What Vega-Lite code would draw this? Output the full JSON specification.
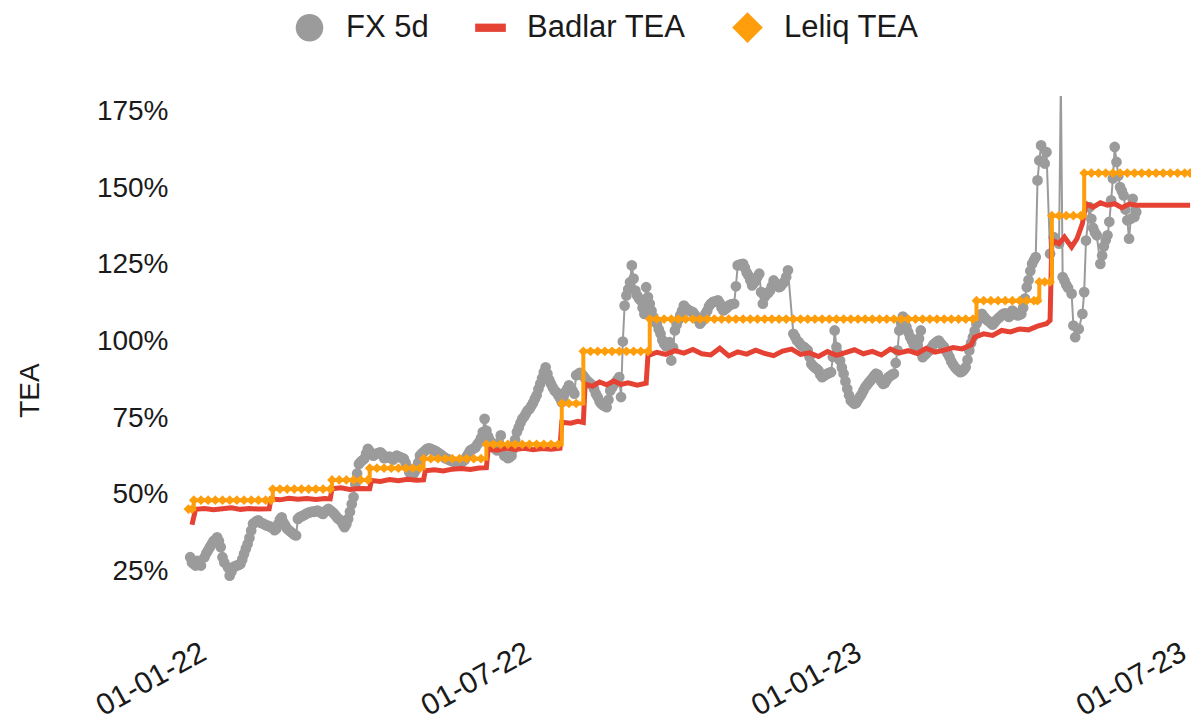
{
"$schema":"https://vega.github.io/schema/vega-lite/v6.json",
"width":1008,"height":491,
"autosize":{"type":"none"},
"padding":{"left":183,"top":96,"right":0,"bottom":136},
"background":"#ffffff",
"config":{"view":{"stroke":null},"font":"Liberation Sans"},
"datasets":{
"fx":[
{"date":"2022-01-02","value":29.7},{"date":"2022-01-04","value":27.5},{"date":"2022-01-06","value":28.5},{"date":"2022-01-08","value":27.0},{"date":"2022-01-10","value":29.7},{"date":"2022-01-13","value":33.0},{"date":"2022-01-15","value":35.0},{"date":"2022-01-17","value":36.2},{"date":"2022-01-19","value":33.0},{"date":"2022-01-20","value":29.7},{"date":"2022-01-23","value":26.4},{"date":"2022-01-24","value":23.7},{"date":"2022-01-26","value":26.4},{"date":"2022-01-28","value":27.0},{"date":"2022-01-30","value":27.5},
{"date":"2022-02-01","value":30.8},{"date":"2022-02-03","value":34.0},{"date":"2022-02-05","value":38.4},{"date":"2022-02-06","value":40.6},{"date":"2022-02-09","value":41.7},{"date":"2022-02-12","value":40.6},{"date":"2022-02-14","value":40.0},{"date":"2022-02-16","value":39.5},{"date":"2022-02-19","value":39.0},{"date":"2022-02-22","value":42.7},{"date":"2022-02-25","value":39.0},{"date":"2022-02-27","value":38.0},
{"date":"2022-03-02","value":36.8},{"date":"2022-03-03","value":42.2},{"date":"2022-03-06","value":43.3},{"date":"2022-03-08","value":44.0},{"date":"2022-03-10","value":44.4},{"date":"2022-03-14","value":44.9},{"date":"2022-03-17","value":43.8},{"date":"2022-03-20","value":45.5},{"date":"2022-03-22","value":44.5},{"date":"2022-03-24","value":43.3},{"date":"2022-03-27","value":41.7},{"date":"2022-03-29","value":39.5},{"date":"2022-03-31","value":42.2},
{"date":"2022-04-03","value":49.3},{"date":"2022-04-04","value":53.6},{"date":"2022-04-06","value":60.1},{"date":"2022-04-09","value":61.8},{"date":"2022-04-11","value":65.0},{"date":"2022-04-14","value":62.8},{"date":"2022-04-16","value":63.5},{"date":"2022-04-18","value":63.9},{"date":"2022-04-20","value":62.0},{"date":"2022-04-22","value":62.3},{"date":"2022-04-25","value":61.5},{"date":"2022-04-27","value":62.8},
{"date":"2022-05-01","value":61.8},{"date":"2022-05-03","value":59.0},{"date":"2022-05-05","value":56.3},{"date":"2022-05-07","value":57.4},{"date":"2022-05-10","value":62.8},{"date":"2022-05-12","value":64.0},{"date":"2022-05-14","value":65.0},{"date":"2022-05-18","value":64.5},{"date":"2022-05-21","value":63.4},{"date":"2022-05-24","value":62.0},{"date":"2022-05-27","value":61.2},{"date":"2022-05-30","value":60.5},
{"date":"2022-06-01","value":60.1},{"date":"2022-06-04","value":61.5},{"date":"2022-06-07","value":64.5},{"date":"2022-06-10","value":65.5},{"date":"2022-06-12","value":67.2},{"date":"2022-06-14","value":70.5},{"date":"2022-06-15","value":74.8},{"date":"2022-06-18","value":67.7},{"date":"2022-06-22","value":64.5},{"date":"2022-06-24","value":69.4},{"date":"2022-06-26","value":62.8},{"date":"2022-06-28","value":62.0},{"date":"2022-06-30","value":62.8},
{"date":"2022-07-03","value":70.5},{"date":"2022-07-06","value":74.8},{"date":"2022-07-09","value":77.5},{"date":"2022-07-11","value":79.0},{"date":"2022-07-13","value":81.3},{"date":"2022-07-16","value":86.2},{"date":"2022-07-19","value":91.6},{"date":"2022-07-22","value":86.2},{"date":"2022-07-25","value":83.5},{"date":"2022-07-28","value":80.2},
{"date":"2022-08-01","value":85.7},{"date":"2022-08-04","value":83.0},{"date":"2022-08-05","value":89.0},{"date":"2022-08-08","value":89.5},{"date":"2022-08-11","value":87.3},{"date":"2022-08-14","value":85.7},{"date":"2022-08-17","value":81.9},{"date":"2022-08-19","value":79.7},{"date":"2022-08-22","value":78.6},{"date":"2022-08-24","value":84.0},{"date":"2022-08-27","value":86.7},{"date":"2022-08-29","value":88.4},{"date":"2022-08-30","value":81.9},{"date":"2022-08-31","value":100.0},
{"date":"2022-09-01","value":111.7},{"date":"2022-09-04","value":119.3},{"date":"2022-09-05","value":124.8},{"date":"2022-09-07","value":116.6},{"date":"2022-09-10","value":113.4},{"date":"2022-09-12","value":109.0},{"date":"2022-09-13","value":117.7},{"date":"2022-09-15","value":112.3},{"date":"2022-09-17","value":108.0},{"date":"2022-09-19","value":105.8},{"date":"2022-09-21","value":102.5},{"date":"2022-09-23","value":99.3},{"date":"2022-09-26","value":99.8},{"date":"2022-09-27","value":93.8},{"date":"2022-09-29","value":103.6},
{"date":"2022-10-01","value":107.0},{"date":"2022-10-04","value":111.7},{"date":"2022-10-06","value":110.5},{"date":"2022-10-09","value":109.6},{"date":"2022-10-11","value":108.0},{"date":"2022-10-13","value":105.8},{"date":"2022-10-16","value":109.0},{"date":"2022-10-19","value":112.3},{"date":"2022-10-23","value":113.4},{"date":"2022-10-26","value":110.1},{"date":"2022-10-29","value":111.7},
{"date":"2022-11-01","value":112.3},{"date":"2022-11-03","value":124.8},{"date":"2022-11-06","value":125.3},{"date":"2022-11-09","value":121.5},{"date":"2022-11-11","value":118.3},{"date":"2022-11-13","value":119.9},{"date":"2022-11-15","value":122.1},{"date":"2022-11-16","value":116.1},{"date":"2022-11-17","value":112.3},{"date":"2022-11-18","value":114.5},{"date":"2022-11-21","value":116.6},{"date":"2022-11-23","value":119.9},{"date":"2022-11-26","value":117.7},{"date":"2022-11-28","value":118.8},
{"date":"2022-12-01","value":123.2},{"date":"2022-12-04","value":102.5},{"date":"2022-12-06","value":100.3},{"date":"2022-12-08","value":99.0},{"date":"2022-12-10","value":98.2},{"date":"2022-12-12","value":97.1},{"date":"2022-12-14","value":92.7},{"date":"2022-12-17","value":91.1},{"date":"2022-12-20","value":88.4},{"date":"2022-12-23","value":89.5},{"date":"2022-12-25","value":90.0},{"date":"2022-12-27","value":103.6},{"date":"2022-12-28","value":98.2},{"date":"2022-12-30","value":93.8},
{"date":"2023-01-01","value":89.5},{"date":"2023-01-03","value":84.6},{"date":"2023-01-05","value":80.8},{"date":"2023-01-07","value":79.7},{"date":"2023-01-10","value":81.9},{"date":"2023-01-13","value":85.1},{"date":"2023-01-16","value":87.3},{"date":"2023-01-19","value":89.5},{"date":"2023-01-23","value":86.2},{"date":"2023-01-26","value":88.4},{"date":"2023-01-29","value":89.5},{"date":"2023-01-31","value":97.1},
{"date":"2023-02-01","value":103.6},{"date":"2023-02-03","value":108.1},{"date":"2023-02-05","value":104.7},{"date":"2023-02-08","value":100.3},{"date":"2023-02-10","value":97.6},{"date":"2023-02-13","value":103.6},{"date":"2023-02-14","value":94.9},{"date":"2023-02-18","value":97.1},{"date":"2023-02-20","value":99.0},{"date":"2023-02-23","value":100.3},{"date":"2023-02-26","value":98.2},
{"date":"2023-03-01","value":94.9},{"date":"2023-03-04","value":91.6},{"date":"2023-03-07","value":90.0},{"date":"2023-03-10","value":91.6},{"date":"2023-03-12","value":97.1},{"date":"2023-03-14","value":101.4},{"date":"2023-03-16","value":105.8},{"date":"2023-03-19","value":109.0},{"date":"2023-03-22","value":106.9},{"date":"2023-03-25","value":105.5},{"date":"2023-03-27","value":106.9},{"date":"2023-03-31","value":109.0},
{"date":"2023-04-03","value":108.0},{"date":"2023-04-05","value":110.1},{"date":"2023-04-08","value":108.5},{"date":"2023-04-10","value":109.0},{"date":"2023-04-13","value":117.7},{"date":"2023-04-16","value":125.3},{"date":"2023-04-18","value":127.5},{"date":"2023-04-19","value":152.5},{"date":"2023-04-20","value":159.0},{"date":"2023-04-21","value":163.9},{"date":"2023-04-23","value":158.0},{"date":"2023-04-24","value":161.7},{"date":"2023-04-26","value":128.6},{"date":"2023-04-28","value":134.0},
{"date":"2023-05-01","value":131.9},{"date":"2023-05-02","value":185.0},{"date":"2023-05-03","value":121.0},{"date":"2023-05-04","value":119.9},{"date":"2023-05-08","value":115.6},{"date":"2023-05-09","value":105.2},{"date":"2023-05-10","value":101.4},{"date":"2023-05-12","value":104.1},{"date":"2023-05-14","value":109.0},{"date":"2023-05-15","value":116.1},{"date":"2023-05-16","value":132.9},{"date":"2023-05-18","value":143.8},{"date":"2023-05-22","value":134.6},{"date":"2023-05-24","value":125.3},{"date":"2023-05-28","value":134.6},{"date":"2023-05-29","value":139.0},{"date":"2023-05-31","value":153.1},
{"date":"2023-06-01","value":163.4},{"date":"2023-06-02","value":158.5},{"date":"2023-06-04","value":150.3},{"date":"2023-06-06","value":147.6},{"date":"2023-06-08","value":139.5},{"date":"2023-06-09","value":133.5},{"date":"2023-06-11","value":146.5},{"date":"2023-06-12","value":140.6},{"date":"2023-06-13","value":142.2},
{"date":"2022-01-03","value":28.0},{"date":"2022-01-05","value":27.0},{"date":"2022-01-07","value":28.0},{"date":"2022-01-11","value":31.0},{"date":"2022-01-12","value":32.0},{"date":"2022-01-14","value":34.0},{"date":"2022-01-18","value":35.0},{"date":"2022-01-21","value":28.0},{"date":"2022-01-25","value":25.0},{"date":"2022-01-27","value":26.8},{"date":"2022-01-29","value":27.2},{"date":"2022-01-31","value":29.0},
{"date":"2022-02-02","value":32.5},{"date":"2022-02-04","value":36.0},{"date":"2022-02-07","value":41.0},{"date":"2022-02-08","value":41.5},{"date":"2022-02-10","value":41.0},{"date":"2022-02-11","value":40.8},{"date":"2022-02-13","value":40.2},{"date":"2022-02-15","value":39.8},{"date":"2022-02-17","value":39.2},{"date":"2022-02-18","value":38.5},{"date":"2022-02-20","value":40.5},{"date":"2022-02-21","value":42.0},{"date":"2022-02-23","value":41.0},{"date":"2022-02-24","value":40.0},{"date":"2022-02-26","value":38.5},{"date":"2022-02-28","value":37.5},
{"date":"2022-03-01","value":37.0},{"date":"2022-03-04","value":42.8},{"date":"2022-03-05","value":43.0},{"date":"2022-03-07","value":43.6},{"date":"2022-03-09","value":44.2},{"date":"2022-03-11","value":44.6},{"date":"2022-03-12","value":44.5},{"date":"2022-03-13","value":44.7},{"date":"2022-03-15","value":44.5},{"date":"2022-03-16","value":44.1},{"date":"2022-03-18","value":44.5},{"date":"2022-03-19","value":45.0},{"date":"2022-03-21","value":45.0},{"date":"2022-03-23","value":44.0},{"date":"2022-03-25","value":42.5},{"date":"2022-03-26","value":42.0},{"date":"2022-03-28","value":40.5},{"date":"2022-03-30","value":40.5},
{"date":"2022-04-01","value":44.5},{"date":"2022-04-02","value":47.0},{"date":"2022-04-05","value":57.0},{"date":"2022-04-07","value":60.8},{"date":"2022-04-08","value":61.3},{"date":"2022-04-10","value":63.5},{"date":"2022-04-12","value":64.2},{"date":"2022-04-13","value":63.5},{"date":"2022-04-15","value":63.2},{"date":"2022-04-17","value":63.7},{"date":"2022-04-19","value":63.3},{"date":"2022-04-21","value":62.1},{"date":"2022-04-23","value":62.5},{"date":"2022-04-24","value":62.0},{"date":"2022-04-26","value":62.2},{"date":"2022-04-28","value":62.5},{"date":"2022-04-29","value":62.3},{"date":"2022-04-30","value":62.0},
{"date":"2022-05-02","value":60.5},{"date":"2022-05-04","value":57.5},{"date":"2022-05-06","value":56.5},{"date":"2022-05-08","value":58.5},{"date":"2022-05-09","value":60.5},{"date":"2022-05-11","value":63.5},{"date":"2022-05-13","value":64.5},{"date":"2022-05-15","value":65.2},{"date":"2022-05-16","value":65.0},{"date":"2022-05-17","value":64.7},{"date":"2022-05-19","value":64.2},{"date":"2022-05-20","value":63.8},{"date":"2022-05-22","value":63.0},{"date":"2022-05-23","value":62.5},{"date":"2022-05-25","value":61.8},{"date":"2022-05-26","value":61.5},{"date":"2022-05-28","value":61.0},{"date":"2022-05-29","value":60.8},{"date":"2022-05-31","value":60.3},
{"date":"2022-06-02","value":60.5},{"date":"2022-06-03","value":61.0},{"date":"2022-06-05","value":62.5},{"date":"2022-06-06","value":63.5},{"date":"2022-06-08","value":64.8},{"date":"2022-06-09","value":65.2},{"date":"2022-06-11","value":66.5},{"date":"2022-06-13","value":68.5},{"date":"2022-06-16","value":71.0},{"date":"2022-06-17","value":69.0},{"date":"2022-06-19","value":66.5},{"date":"2022-06-20","value":65.5},{"date":"2022-06-21","value":65.0},{"date":"2022-06-23","value":67.0},{"date":"2022-06-25","value":65.0},{"date":"2022-06-27","value":62.5},{"date":"2022-06-29","value":62.3},
{"date":"2022-07-01","value":65.0},{"date":"2022-07-02","value":68.0},{"date":"2022-07-04","value":72.0},{"date":"2022-07-05","value":73.5},{"date":"2022-07-07","value":75.5},{"date":"2022-07-08","value":76.5},{"date":"2022-07-10","value":78.0},{"date":"2022-07-12","value":80.0},{"date":"2022-07-14","value":82.5},{"date":"2022-07-15","value":84.5},{"date":"2022-07-17","value":88.0},{"date":"2022-07-18","value":90.0},{"date":"2022-07-20","value":89.5},{"date":"2022-07-21","value":87.5},{"date":"2022-07-23","value":85.0},{"date":"2022-07-24","value":84.0},{"date":"2022-07-26","value":82.5},{"date":"2022-07-27","value":81.5},{"date":"2022-07-29","value":82.0},{"date":"2022-07-30","value":83.5},{"date":"2022-07-31","value":84.5},
{"date":"2022-08-02","value":84.5},{"date":"2022-08-03","value":84.0},{"date":"2022-08-06","value":89.3},{"date":"2022-08-07","value":89.8},{"date":"2022-08-09","value":88.8},{"date":"2022-08-10","value":88.0},{"date":"2022-08-12","value":86.8},{"date":"2022-08-13","value":86.2},{"date":"2022-08-15","value":84.5},{"date":"2022-08-16","value":83.0},{"date":"2022-08-18","value":80.5},{"date":"2022-08-20","value":79.2},{"date":"2022-08-21","value":79.0},{"date":"2022-08-23","value":81.0},{"date":"2022-08-25","value":85.0},{"date":"2022-08-26","value":86.0},{"date":"2022-08-28","value":87.5},
{"date":"2022-09-02","value":115.0},{"date":"2022-09-03","value":117.0},{"date":"2022-09-06","value":120.5},{"date":"2022-09-08","value":115.0},{"date":"2022-09-09","value":114.0},{"date":"2022-09-11","value":111.0},{"date":"2022-09-14","value":114.5},{"date":"2022-09-16","value":110.0},{"date":"2022-09-18","value":106.5},{"date":"2022-09-20","value":104.0},{"date":"2022-09-22","value":100.5},{"date":"2022-09-24","value":98.5},{"date":"2022-09-25","value":99.0},{"date":"2022-09-28","value":98.0},{"date":"2022-09-30","value":105.5},
{"date":"2022-10-02","value":108.5},{"date":"2022-10-03","value":110.0},{"date":"2022-10-05","value":111.0},{"date":"2022-10-07","value":110.0},{"date":"2022-10-08","value":109.8},{"date":"2022-10-10","value":108.8},{"date":"2022-10-12","value":107.0},{"date":"2022-10-14","value":106.5},{"date":"2022-10-15","value":107.5},{"date":"2022-10-17","value":110.0},{"date":"2022-10-18","value":111.5},{"date":"2022-10-20","value":112.8},{"date":"2022-10-21","value":113.0},{"date":"2022-10-22","value":113.2},{"date":"2022-10-24","value":112.5},{"date":"2022-10-25","value":111.0},{"date":"2022-10-27","value":110.5},{"date":"2022-10-28","value":111.0},{"date":"2022-10-30","value":112.0},{"date":"2022-10-31","value":112.2},
{"date":"2022-11-02","value":118.0},{"date":"2022-11-04","value":125.0},{"date":"2022-11-05","value":125.2},{"date":"2022-11-07","value":124.0},{"date":"2022-11-08","value":122.5},{"date":"2022-11-10","value":120.0},{"date":"2022-11-12","value":119.0},{"date":"2022-11-14","value":121.0},{"date":"2022-11-19","value":115.5},{"date":"2022-11-20","value":115.8},{"date":"2022-11-22","value":118.0},{"date":"2022-11-24","value":119.0},{"date":"2022-11-25","value":118.5},{"date":"2022-11-27","value":118.0},{"date":"2022-11-29","value":119.5},{"date":"2022-11-30","value":121.0},
{"date":"2022-12-05","value":101.5},{"date":"2022-12-07","value":99.8},{"date":"2022-12-09","value":98.5},{"date":"2022-12-11","value":97.6},{"date":"2022-12-13","value":95.0},{"date":"2022-12-15","value":92.0},{"date":"2022-12-16","value":91.5},{"date":"2022-12-18","value":90.5},{"date":"2022-12-19","value":89.2},{"date":"2022-12-21","value":88.8},{"date":"2022-12-22","value":89.2},{"date":"2022-12-24","value":89.8},{"date":"2022-12-26","value":95.0},{"date":"2022-12-29","value":96.0},{"date":"2022-12-31","value":91.5},
{"date":"2023-01-02","value":87.0},{"date":"2023-01-04","value":82.5},{"date":"2023-01-06","value":80.2},{"date":"2023-01-08","value":80.0},{"date":"2023-01-09","value":81.0},{"date":"2023-01-11","value":82.8},{"date":"2023-01-12","value":84.0},{"date":"2023-01-14","value":85.8},{"date":"2023-01-15","value":86.6},{"date":"2023-01-17","value":88.0},{"date":"2023-01-18","value":88.8},{"date":"2023-01-20","value":89.2},{"date":"2023-01-21","value":88.0},{"date":"2023-01-22","value":87.0},{"date":"2023-01-24","value":86.5},{"date":"2023-01-25","value":87.5},{"date":"2023-01-27","value":88.8},{"date":"2023-01-28","value":89.2},{"date":"2023-01-30","value":93.0},
{"date":"2023-02-02","value":106.0},{"date":"2023-02-04","value":106.5},{"date":"2023-02-06","value":103.0},{"date":"2023-02-07","value":101.5},{"date":"2023-02-09","value":99.0},{"date":"2023-02-11","value":99.0},{"date":"2023-02-12","value":101.0},{"date":"2023-02-15","value":95.5},{"date":"2023-02-16","value":96.0},{"date":"2023-02-17","value":96.8},{"date":"2023-02-19","value":98.0},{"date":"2023-02-21","value":99.5},{"date":"2023-02-22","value":100.0},{"date":"2023-02-24","value":99.5},{"date":"2023-02-25","value":98.8},{"date":"2023-02-27","value":97.0},{"date":"2023-02-28","value":96.0},
{"date":"2023-03-02","value":93.5},{"date":"2023-03-03","value":92.5},{"date":"2023-03-05","value":91.0},{"date":"2023-03-06","value":90.5},{"date":"2023-03-08","value":90.2},{"date":"2023-03-09","value":90.8},{"date":"2023-03-11","value":94.0},{"date":"2023-03-13","value":99.5},{"date":"2023-03-15","value":103.5},{"date":"2023-03-17","value":107.0},{"date":"2023-03-18","value":108.0},{"date":"2023-03-20","value":108.2},{"date":"2023-03-21","value":107.5},{"date":"2023-03-23","value":106.5},{"date":"2023-03-24","value":106.0},{"date":"2023-03-26","value":106.2},{"date":"2023-03-28","value":107.5},{"date":"2023-03-29","value":108.0},{"date":"2023-03-30","value":108.5},
{"date":"2023-04-01","value":109.2},{"date":"2023-04-02","value":109.0},{"date":"2023-04-04","value":108.5},{"date":"2023-04-06","value":109.5},{"date":"2023-04-07","value":109.0},{"date":"2023-04-09","value":108.7},{"date":"2023-04-11","value":111.0},{"date":"2023-04-12","value":114.0},{"date":"2023-04-14","value":120.0},{"date":"2023-04-15","value":123.0},{"date":"2023-04-17","value":126.5},
{"date":"2023-05-05","value":118.5},{"date":"2023-05-06","value":117.5},{"date":"2023-05-19","value":140.0},{"date":"2023-05-20","value":137.0},{"date":"2023-05-21","value":135.5},{"date":"2023-05-25","value":128.0},{"date":"2023-05-26","value":131.0},{"date":"2023-05-27","value":133.0},{"date":"2023-05-30","value":146.0},
{"date":"2023-06-03","value":154.0},{"date":"2023-06-05","value":149.0},{"date":"2023-06-07","value":143.0},{"date":"2023-06-10","value":140.0}
],
"badlar":[
{"date":"2022-01-03","value":40.3},{"date":"2022-01-05","value":45.3},{"date":"2022-01-10","value":45.6},{"date":"2022-01-15","value":45.2},{"date":"2022-01-20","value":45.5},{"date":"2022-01-25","value":45.8},{"date":"2022-01-30","value":45.3},{"date":"2022-02-04","value":45.6},{"date":"2022-02-09","value":45.4},{"date":"2022-02-15","value":45.5},
{"date":"2022-02-16","value":48.7},{"date":"2022-02-21","value":48.4},{"date":"2022-02-26","value":48.9},{"date":"2022-03-03","value":48.6},{"date":"2022-03-08","value":48.8},{"date":"2022-03-13","value":48.5},{"date":"2022-03-18","value":48.8},{"date":"2022-03-21","value":48.7},
{"date":"2022-03-22","value":52.0},{"date":"2022-03-27","value":52.3},{"date":"2022-04-01","value":51.8},{"date":"2022-04-06","value":52.1},{"date":"2022-04-12","value":52.0},
{"date":"2022-04-13","value":54.7},{"date":"2022-04-18","value":54.4},{"date":"2022-04-23","value":55.0},{"date":"2022-04-28","value":54.6},{"date":"2022-05-03","value":55.1},{"date":"2022-05-08","value":54.8},{"date":"2022-05-12","value":54.9},
{"date":"2022-05-13","value":57.9},{"date":"2022-05-18","value":58.2},{"date":"2022-05-23","value":57.8},{"date":"2022-05-28","value":58.4},{"date":"2022-06-02","value":58.6},{"date":"2022-06-07","value":58.3},{"date":"2022-06-12","value":58.8},{"date":"2022-06-16","value":58.9},
{"date":"2022-06-17","value":65.0},{"date":"2022-06-22","value":64.6},{"date":"2022-06-27","value":65.3},{"date":"2022-07-02","value":64.8},{"date":"2022-07-07","value":65.2},{"date":"2022-07-12","value":64.7},{"date":"2022-07-17","value":65.1},{"date":"2022-07-22","value":64.9},{"date":"2022-07-27","value":65.2},
{"date":"2022-07-28","value":73.7},{"date":"2022-08-02","value":73.4},{"date":"2022-08-06","value":74.0},{"date":"2022-08-09","value":73.6},
{"date":"2022-08-10","value":86.2},{"date":"2022-08-14","value":85.4},{"date":"2022-08-18","value":86.8},{"date":"2022-08-22","value":85.9},{"date":"2022-08-26","value":87.1},{"date":"2022-08-30","value":86.0},{"date":"2022-09-03","value":86.5},{"date":"2022-09-08","value":85.8},{"date":"2022-09-13","value":86.4},
{"date":"2022-09-14","value":95.4},{"date":"2022-09-19","value":96.5},{"date":"2022-09-24","value":95.8},{"date":"2022-09-29","value":97.0},{"date":"2022-10-04","value":96.2},{"date":"2022-10-09","value":97.4},{"date":"2022-10-14","value":96.0},{"date":"2022-10-19","value":95.6},{"date":"2022-10-24","value":97.8},{"date":"2022-10-29","value":95.3},{"date":"2022-11-03","value":96.6},{"date":"2022-11-08","value":95.9},{"date":"2022-11-13","value":97.2},{"date":"2022-11-18","value":96.1},{"date":"2022-11-23","value":95.4},{"date":"2022-11-28","value":96.9},{"date":"2022-12-03","value":97.5},{"date":"2022-12-08","value":95.8},{"date":"2022-12-13","value":96.3},{"date":"2022-12-18","value":95.1},{"date":"2022-12-23","value":96.7},{"date":"2022-12-28","value":95.5},
{"date":"2023-01-02","value":96.4},{"date":"2023-01-07","value":97.3},{"date":"2023-01-12","value":96.0},{"date":"2023-01-17","value":96.8},{"date":"2023-01-22","value":95.6},{"date":"2023-01-27","value":97.5},{"date":"2023-02-01","value":96.3},{"date":"2023-02-06","value":97.0},{"date":"2023-02-11","value":96.1},{"date":"2023-02-16","value":97.8},{"date":"2023-02-21","value":96.5},{"date":"2023-02-26","value":97.2},{"date":"2023-03-03","value":98.0},{"date":"2023-03-08","value":97.6},{"date":"2023-03-13","value":98.9},
{"date":"2023-03-15","value":101.4},{"date":"2023-03-20","value":102.5},{"date":"2023-03-25","value":102.0},{"date":"2023-03-30","value":103.6},{"date":"2023-04-04","value":103.1},{"date":"2023-04-09","value":104.1},{"date":"2023-04-14","value":103.8},{"date":"2023-04-19","value":105.0},{"date":"2023-04-24","value":105.8},{"date":"2023-04-26","value":106.9},
{"date":"2023-04-27","value":133.0},{"date":"2023-05-01","value":131.9},{"date":"2023-05-04","value":134.0},{"date":"2023-05-08","value":130.8},{"date":"2023-05-11","value":133.5},{"date":"2023-05-14","value":138.4},{"date":"2023-05-16","value":144.9},{"date":"2023-05-20","value":143.8},{"date":"2023-05-24","value":145.2},{"date":"2023-05-28","value":144.4},{"date":"2023-06-01","value":144.9},{"date":"2023-06-05","value":143.6},{"date":"2023-06-09","value":144.8},{"date":"2023-06-13","value":144.4},{"date":"2023-07-13","value":144.4}
],
"leliq":[
{"date":"2022-01-01","value":45.4},{"date":"2022-01-03","value":45.4},{"date":"2022-01-04","value":48.3},{"date":"2022-01-08","value":48.3},{"date":"2022-01-12","value":48.3},{"date":"2022-01-16","value":48.3},{"date":"2022-01-20","value":48.3},{"date":"2022-01-24","value":48.3},{"date":"2022-01-28","value":48.3},{"date":"2022-02-01","value":48.3},{"date":"2022-02-05","value":48.3},{"date":"2022-02-09","value":48.3},{"date":"2022-02-13","value":48.3},{"date":"2022-02-16","value":48.3},
{"date":"2022-02-17","value":51.9},{"date":"2022-02-21","value":51.9},{"date":"2022-02-25","value":51.9},{"date":"2022-03-01","value":51.9},{"date":"2022-03-05","value":51.9},{"date":"2022-03-09","value":51.9},{"date":"2022-03-13","value":51.9},{"date":"2022-03-17","value":51.9},{"date":"2022-03-21","value":51.9},
{"date":"2022-03-22","value":54.9},{"date":"2022-03-26","value":54.9},{"date":"2022-03-30","value":54.9},{"date":"2022-04-03","value":54.9},{"date":"2022-04-07","value":54.9},{"date":"2022-04-11","value":54.9},
{"date":"2022-04-12","value":58.7},{"date":"2022-04-16","value":58.7},{"date":"2022-04-20","value":58.7},{"date":"2022-04-24","value":58.7},{"date":"2022-04-28","value":58.7},{"date":"2022-05-02","value":58.7},{"date":"2022-05-06","value":58.7},{"date":"2022-05-10","value":58.7},
{"date":"2022-05-12","value":61.8},{"date":"2022-05-16","value":61.8},{"date":"2022-05-20","value":61.8},{"date":"2022-05-24","value":61.8},{"date":"2022-05-28","value":61.8},{"date":"2022-06-01","value":61.8},{"date":"2022-06-05","value":61.8},{"date":"2022-06-09","value":61.8},{"date":"2022-06-13","value":61.8},
{"date":"2022-06-16","value":66.5},{"date":"2022-06-20","value":66.5},{"date":"2022-06-24","value":66.5},{"date":"2022-06-28","value":66.5},{"date":"2022-07-02","value":66.5},{"date":"2022-07-06","value":66.5},{"date":"2022-07-10","value":66.5},{"date":"2022-07-14","value":66.5},{"date":"2022-07-18","value":66.5},{"date":"2022-07-22","value":66.5},{"date":"2022-07-26","value":66.5},
{"date":"2022-07-28","value":79.8},{"date":"2022-08-01","value":79.8},{"date":"2022-08-05","value":79.8},
{"date":"2022-08-09","value":96.8},{"date":"2022-08-13","value":96.8},{"date":"2022-08-17","value":96.8},{"date":"2022-08-21","value":96.8},{"date":"2022-08-25","value":96.8},{"date":"2022-08-29","value":96.8},{"date":"2022-09-02","value":96.8},{"date":"2022-09-06","value":96.8},{"date":"2022-09-10","value":96.8},{"date":"2022-09-14","value":96.8},
{"date":"2022-09-15","value":107.3},{"date":"2022-09-19","value":107.3},{"date":"2022-09-23","value":107.3},{"date":"2022-09-27","value":107.3},{"date":"2022-10-01","value":107.3},{"date":"2022-10-05","value":107.3},{"date":"2022-10-09","value":107.3},{"date":"2022-10-13","value":107.3},{"date":"2022-10-17","value":107.3},{"date":"2022-10-21","value":107.3},{"date":"2022-10-25","value":107.3},{"date":"2022-10-29","value":107.3},{"date":"2022-11-02","value":107.3},{"date":"2022-11-06","value":107.3},{"date":"2022-11-10","value":107.3},{"date":"2022-11-14","value":107.3},{"date":"2022-11-18","value":107.3},{"date":"2022-11-22","value":107.3},{"date":"2022-11-26","value":107.3},{"date":"2022-11-30","value":107.3},{"date":"2022-12-04","value":107.3},{"date":"2022-12-08","value":107.3},{"date":"2022-12-12","value":107.3},{"date":"2022-12-16","value":107.3},{"date":"2022-12-20","value":107.3},{"date":"2022-12-24","value":107.3},{"date":"2022-12-28","value":107.3},
{"date":"2023-01-01","value":107.3},{"date":"2023-01-05","value":107.3},{"date":"2023-01-09","value":107.3},{"date":"2023-01-13","value":107.3},{"date":"2023-01-17","value":107.3},{"date":"2023-01-21","value":107.3},{"date":"2023-01-25","value":107.3},{"date":"2023-01-29","value":107.3},{"date":"2023-02-02","value":107.3},{"date":"2023-02-06","value":107.3},{"date":"2023-02-10","value":107.3},{"date":"2023-02-14","value":107.3},{"date":"2023-02-18","value":107.3},{"date":"2023-02-22","value":107.3},{"date":"2023-02-26","value":107.3},{"date":"2023-03-02","value":107.3},{"date":"2023-03-06","value":107.3},{"date":"2023-03-10","value":107.3},{"date":"2023-03-14","value":107.3},
{"date":"2023-03-16","value":113.3},{"date":"2023-03-20","value":113.3},{"date":"2023-03-24","value":113.3},{"date":"2023-03-28","value":113.3},{"date":"2023-04-01","value":113.3},{"date":"2023-04-05","value":113.3},{"date":"2023-04-09","value":113.3},{"date":"2023-04-13","value":113.3},{"date":"2023-04-17","value":113.3},{"date":"2023-04-19","value":113.3},
{"date":"2023-04-20","value":119.4},{"date":"2023-04-23","value":119.4},{"date":"2023-04-26","value":119.4},
{"date":"2023-04-27","value":141.0},{"date":"2023-05-01","value":141.0},{"date":"2023-05-05","value":141.0},{"date":"2023-05-09","value":141.0},{"date":"2023-05-13","value":141.0},{"date":"2023-05-14","value":141.0},
{"date":"2023-05-15","value":154.9},{"date":"2023-05-19","value":154.9},{"date":"2023-05-23","value":154.9},{"date":"2023-05-27","value":154.9},{"date":"2023-05-31","value":154.9},{"date":"2023-06-04","value":154.9},{"date":"2023-06-08","value":154.9},{"date":"2023-06-12","value":154.9},{"date":"2023-06-16","value":154.9},{"date":"2023-06-20","value":154.9},{"date":"2023-06-24","value":154.9},{"date":"2023-06-28","value":154.9},{"date":"2023-07-02","value":154.9},{"date":"2023-07-06","value":154.9},{"date":"2023-07-10","value":154.9},{"date":"2023-07-13","value":154.9}
]
},
"encoding":{
"x":{"field":"date","type":"temporal",
 "scale":{"type":"utc","domain":[{"year":2021,"month":12,"date":29,"utc":true},{"year":2023,"month":7,"date":13,"hours":12,"utc":true}]},
 "axis":{"values":[{"year":2022,"month":1,"date":1,"utc":true},{"year":2022,"month":7,"date":1,"utc":true},{"year":2023,"month":1,"date":1,"utc":true},{"year":2023,"month":7,"date":1,"utc":true}],
  "format":"%d-%m-%y","labelAngle":-29,"labelAlign":"right","labelBaseline":"middle","labelFontSize":30,"labelFont":"Liberation Sans","labelColor":"#1a1a1a",
  "labelPadding":63,"labelOffset":15,"ticks":false,"tickSize":0,"domain":false,"grid":false,"title":null,"labelOverlap":false,"labelFlush":false}},
"y":{"field":"value","type":"quantitative",
 "scale":{"domain":[20,180],"nice":false,"zero":false},
 "axis":{"values":[25,50,75,100,125,150,175],"labelExpr":"datum.value + '%'","labelFontSize":28,"labelFont":"Liberation Sans","labelColor":"#1a1a1a",
  "labelPadding":15,"ticks":false,"tickSize":0,"domain":false,"grid":false,
  "title":"TEA","titleFontSize":28,"titleFont":"Liberation Sans","titleFontWeight":"normal","titleColor":"#1a1a1a","titleX":-153,"titleY":294,"titleBaseline":"middle"}}
},
"layer":[
{"data":{"name":"fx"},"mark":{"type":"line","strokeWidth":2,"clip":true},
 "encoding":{"color":{"datum":"FX 5d","scale":{"domain":["FX 5d","Badlar TEA","Leliq TEA"],"range":["#9b9b9b","#e64234","#ff9e0c"]},
  "legend":{"orient":"none","legendX":111,"legendY":-84,"direction":"horizontal","title":null,
   "labelFontSize":31,"labelFont":"Liberation Sans","labelColor":"#1a1a1a","labelOffset":21,"columnPadding":46,"symbolSize":760,
   "encode":{"symbols":{"update":{
    "shape":{"signal":"datum.value === 'FX 5d' ? 'circle' : datum.value === 'Leliq TEA' ? 'diamond' : 'M-1,-0.27L1,-0.27L1,0.27L-1,0.27Z'"},
    "size":{"signal":"datum.value === 'FX 5d' ? 760 : 940"},
    "fill":{"scale":"color","field":"value"},
    "stroke":{"value":"transparent"},"strokeWidth":{"value":0},"opacity":{"value":1}}}}}}}},
{"data":{"name":"fx"},"mark":{"type":"point","filled":true,"size":115,"opacity":1,"clip":true},
 "encoding":{"color":{"datum":"FX 5d"}}},
{"data":{"name":"badlar"},"mark":{"type":"line","strokeWidth":5,"clip":true},
 "encoding":{"color":{"datum":"Badlar TEA"}}},
{"data":{"name":"leliq"},"mark":{"type":"line","strokeWidth":4,"interpolate":"step-after","clip":true},
 "encoding":{"color":{"datum":"Leliq TEA"}}},
{"data":{"name":"leliq"},"mark":{"type":"point","shape":"diamond","filled":true,"size":95,"opacity":1,"clip":true},
 "encoding":{"color":{"datum":"Leliq TEA"}}}
]
}
